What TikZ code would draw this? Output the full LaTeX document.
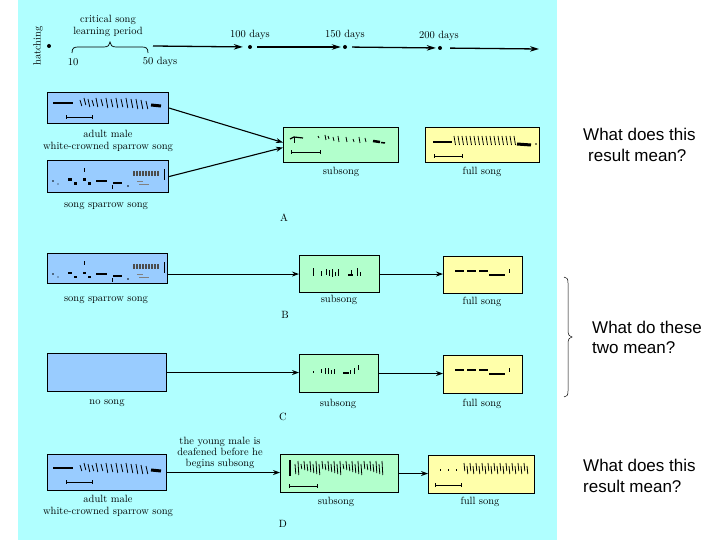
\documentclass[tikz,border=0pt]{standalone}
\usepackage{fontspec}
\newfontfamily\qfont{Liberation Sans}
\usetikzlibrary{arrows.meta,calc}
\definecolor{bgcyan}{RGB}{176,255,255}
\definecolor{songblue}{RGB}{153,204,255}
\definecolor{subgreen}{RGB}{178,255,204}
\definecolor{fullyellow}{RGB}{255,255,170}
\tikzset{
  box/.style={draw=black, line width=1.1pt, inner sep=0pt, anchor=north west},
  bluebox/.style={box, fill=songblue},
  greenbox/.style={box, fill=subgreen},
  yellowbox/.style={box, fill=fullyellow},
  lbl/.style={font=\fontsize{10.5}{12}\selectfont, inner sep=0pt, align=center},
  conn/.style={line width=1.1pt, -{Stealth[length=7pt,width=5pt]}},
  tl/.style={line width=1.3pt, -{Stealth[length=9pt,width=5.5pt]}},
  tdot/.style={circle, fill=black, inner sep=0pt, minimum size=4pt},
  qtext/.style={font=\qfont\fontsize{17}{21}\selectfont, anchor=west, inner sep=0pt},
  bracestyle/.style={line width=0.7pt}
}
\newcommand{\Sbar}[3]{\draw[line width=0.7pt] (#1,#3) -- (#2,#3);
  \draw[line width=0.6pt] (#1,#3-1.8) -- (#1,#3+1.8) (#2,#3-1.8) -- (#2,#3+1.8);}
\newcommand{\WCmarks}{%
  \draw[line width=1.5pt] (6,11) -- (26,11);
  \foreach \x/\a/\b in {33/8/14, 37/6/13, 41/7/15, 45/8/14, 49/6/15, 54/7/14, 59/6/16, 64/7/15, 69/6/16, 74/7/15, 79/6/16, 84/7/16, 89/7/17, 94/8/17, 99/9/17}
    \draw[line width=0.8pt] (\x,\a) -- (\x+1.8,\b);
  \draw[line width=3pt] (104,13) -- (114,14);
  \Sbar{19}{45}{25}}
\newcommand{\SSmarks}{%
  \fill (6,21) circle (0.9);
  \fill (11,24) circle (0.6);
  \fill (21,18.5) rectangle (24.5,21);
  \fill (27,22.5) rectangle (30,25);
  \draw[line width=0.8pt] (37,8) -- (37,12);
  \fill (35.5,18.5) rectangle (38.5,21);
  \fill (41,22.5) rectangle (44,25);
  \draw[line width=1.5pt] (49,21) -- (60,21);
  \draw[line width=1.5pt] (66,23) -- (75,23);
  \draw[line width=0.6pt] (65,25) -- (65,29);
  \fill (81,26) circle (0.8);
  \foreach \x in {86,87.5,...,112} \draw[line width=0.5pt, black!70] (\x,11) -- (\x,16);
  \draw[line width=0.4pt, gray] (90,21) -- (96,21) (92,24) -- (102,24);
  \draw[line width=0.9pt] (117,9) -- (117,20);}
\newcommand{\SubAmarks}{%
  \draw[line width=1.2pt] (7,12) -- (11,10) -- (20,11);
  \draw[line width=1pt] (11,10) -- (11,16);
  \foreach \x/\a/\b in {35/9/11, 42/8/13, 45/9/12, 50/10/14, 55/9/15, 63/10/15, 70/12/15, 76/10/16, 82/11/15}
    \draw[line width=0.8pt] (\x,\a) -- (\x+1,\b);
  \draw[line width=2.5pt] (90,14) -- (97,15);
  \draw[line width=1.5pt] (98,15.5) -- (102,16);
  \Sbar{8}{37}{25}}
\newcommand{\FullAmarks}{%
  \draw[line width=1.5pt] (8,15) -- (27,15);
  \foreach \x in {29,33,...,89} \draw[line width=0.8pt] (\x,9) -- (\x+1.5,18);
  \draw[line width=3pt] (92,17) -- (106,18);
  \fill (111,17) circle (0.8);
  \Sbar{9}{37}{29}}
\newcommand{\SubBmarks}{%
  \foreach \x/\a/\b in {14/13/21, 22/16/21, 27/14/20, 30/15/21, 33/14/22, 36/17/21, 39/14/21, 52/15/21, 58/13/21, 61/17/21}
    \draw[line width=0.8pt] (\x,\a) -- (\x,\b);
  \fill (49,19) rectangle (54,21);}
\newcommand{\SubCmarks}{%
  \foreach \x/\a/\b in {14/17/19, 22/15/19, 26/14/20, 29/14/20, 32/16/20, 35/15/20, 51/16/20, 55/14/20, 59/11/16}
    \draw[line width=0.8pt] (\x,\a) -- (\x,\b);
  \fill (44,18) rectangle (50,20);}
\newcommand{\FullBmarks}{%
  \draw[line width=1.4pt] (12,15) -- (21,15) (24,15) -- (33,15) (36,15) -- (45,15);
  \draw[line width=1.2pt] (46,19) -- (62,19);
  \draw[line width=1pt] (66,13) -- (66,17);}
\newcommand{\SubDmarks}{%
  \draw[line width=1.6pt] (10,6) -- (10,22);
  \foreach \x [evaluate=\x as \a using {7+mod(\x*7,6)}, evaluate=\x as \b using {15+mod(\x*5,7)}] in {15,18,...,102}
    \draw[line width=0.8pt] (\x,\a) -- (\x+0.8,\b);
  \Sbar{9}{37}{32}}
\newcommand{\FullDmarks}{%
  \foreach \x in {12,20,28} \draw[line width=0.6pt] (\x,14) -- (\x,16);
  \foreach \x [evaluate=\x as \a using {8+mod(\x*7,6)}, evaluate=\x as \b using {16+mod(\x*5,6)}] in {36,39,...,99}
    \draw[line width=0.8pt] (\x,\a) -- (\x+0.8,\b);
  \Sbar{7}{33}{30}}
\begin{document}
\begin{tikzpicture}[x=1pt,y=-1pt]
\useasboundingbox (0,0) rectangle (720,540);
\fill[white] (0,0) rectangle (720,540);
\fill[bgcyan] (18,0) rectangle (557,540);

% ---------- timeline ----------
\node[tdot] (hatch) at (49,46) {};
\node[lbl, rotate=90] (hatchtxt) at (38,46) {hatching};
\coordinate (br1) at (72,53);
\coordinate (br2) at (148,53);
\draw[bracestyle] (br1) .. controls (72,48) and (74,47) .. (78,47) -- (104,47)
  .. controls (108,47) and (110,45) .. (110,42) .. controls (110,45) and (112,47) .. (116,47)
  -- (142,47) .. controls (146,47) and (148,48) .. (br2);
\node[lbl] (crit) at (108,26) {critical song\\learning period};
\node[lbl] (t10) at (73,62) {10};
\node[lbl] (t50) at (160,62) {50 days};
\coordinate (tstart) at (153,46);
\node[tdot] (d100) at (250,47) {};
\node[lbl] (l100) at (250,35) {100 days};
\node[tdot] (d150) at (345,47) {};
\node[lbl] (l150) at (345,35) {150 days};
\node[tdot] (d200) at (440,48) {};
\node[lbl] (l200) at (439,36) {200 days};
\coordinate (tend) at (539,49);
\draw[tl, shorten >=5pt] (tstart) -- (d100);
\draw[tl, shorten <=5pt, shorten >=2pt] (d100) -- (d150);
\draw[tl, shorten <=5pt, shorten >=2pt] (d150) -- (d200);
\draw[tl, shorten <=8pt] (d200) -- (tend);

% ---------- A ----------
\node[bluebox, minimum width=121pt, minimum height=31pt] (a1) at (47,92) {};
\begin{scope}[shift={(a1.north west)}]\WCmarks\end{scope}
\node[lbl] (la1) at (108,141) {adult male\\white-crowned sparrow song};
\node[bluebox, minimum width=121pt, minimum height=32pt] (a2) at (47,160) {};
\begin{scope}[shift={(a2.north west)}]\SSmarks\end{scope}
\node[lbl] (la2) at (106,206) {song sparrow song};
\node[greenbox, minimum width=115pt, minimum height=35pt] (asub) at (283,127) {};
\begin{scope}[shift={(asub.north west)}]\SubAmarks\end{scope}
\node[lbl] (lasub) at (341,172) {subsong};
\node[yellowbox, minimum width=114pt, minimum height=35pt] (afull) at (425,127) {};
\begin{scope}[shift={(afull.north west)}]\FullAmarks\end{scope}
\node[lbl] (lafull) at (482,172) {full song};
\node[lbl] (lA) at (284,218) {A};
\draw[conn] (a1.east) -- ($(asub.west)+(0,-2.5)$);
\draw[conn] (a2.east) -- ($(asub.west)+(0,2.5)$);

% ---------- B ----------
\node[bluebox, minimum width=120pt, minimum height=30pt] (b1) at (47,253) {};
\begin{scope}[shift={(b1.north west)}]\SSmarks\end{scope}
\node[lbl] (lb1) at (106,300) {song sparrow song};
\node[greenbox, minimum width=80pt, minimum height=37pt] (bsub) at (299,255) {};
\begin{scope}[shift={(bsub.north west)}]\SubBmarks\end{scope}
\node[lbl] (lbsub) at (339,300) {subsong};
\node[yellowbox, minimum width=79pt, minimum height=37pt] (bfull) at (443,256) {};
\begin{scope}[shift={(bfull.north west)}]\FullBmarks\end{scope}
\node[lbl] (lbfull) at (482,302) {full song};
\node[lbl] (lB) at (285,315) {B};
\draw[conn] (b1.east |- bsub.west) -- (bsub.west);
\draw[conn] (bsub.east) -- (bsub.east -| bfull.west);

% ---------- C ----------
\node[bluebox, minimum width=119pt, minimum height=38pt] (c1) at (47,353) {};
\node[lbl] (lc1) at (107,403) {no song};
\node[greenbox, minimum width=79pt, minimum height=38pt] (csub) at (299,354) {};
\begin{scope}[shift={(csub.north west)}]\SubCmarks\end{scope}
\node[lbl] (lcsub) at (338,404) {subsong};
\node[yellowbox, minimum width=79pt, minimum height=38pt] (cfull) at (443,355) {};
\begin{scope}[shift={(cfull.north west)}]\FullBmarks\end{scope}
\node[lbl] (lcfull) at (482,404) {full song};
\node[lbl] (lC) at (283,417) {C};
\draw[conn] (c1.east) -- (c1.east -| csub.west);
\draw[conn] (csub.east) -- (csub.east -| cfull.west);

% ---------- D ----------
\node[bluebox, minimum width=119pt, minimum height=36pt] (d1) at (47,454) {};
\begin{scope}[shift={($(d1.north west)+(0,3)$)}]\WCmarks\end{scope}
\node[lbl] (ld1) at (108,506) {adult male\\white-crowned sparrow song};
\node[greenbox, minimum width=118pt, minimum height=38pt] (dsub) at (280,454) {};
\begin{scope}[shift={(dsub.north west)}]\SubDmarks\end{scope}
\node[lbl] (ldsub) at (336,502) {subsong};
\node[yellowbox, minimum width=106pt, minimum height=38pt] (dfull) at (428,455) {};
\begin{scope}[shift={(dfull.north west)}]\FullDmarks\end{scope}
\node[lbl] (ldfull) at (480,502) {full song};
\node[lbl] (lD) at (283,524) {D};
\node[lbl, font=\fontsize{10.5}{11}\selectfont] (deaf) at (220,453) {the young male is\\deafened before he\\begins subsong};
\draw[conn] (d1.east) -- (d1.east -| dsub.west);
\draw[conn] (dsub.east) -- (dsub.east -| dfull.west);

% ---------- questions ----------
\node[qtext] (q1a) at (583,134) {What does this};
\node[qtext] (q1b) at (588,155) {result mean?};
\coordinate (rb1) at (564,277);
\coordinate (rb2) at (564,397);
\draw[bracestyle, line width=0.5pt] (rb1) .. controls (567,277) and (568,279) .. (568,283) -- (568,331)
  .. controls (568,335) and (570,337) .. (572,337) .. controls (570,337) and (568,339) .. (568,343)
  -- (568,391) .. controls (568,395) and (567,397) .. (rb2);
\node[qtext] (q2a) at (592,327) {What do these};
\node[qtext] (q2b) at (592,348) {two mean?};
\node[qtext] (q3a) at (583,465) {What does this};
\node[qtext] (q3b) at (583,486) {result mean?};
\end{tikzpicture}
\end{document}
